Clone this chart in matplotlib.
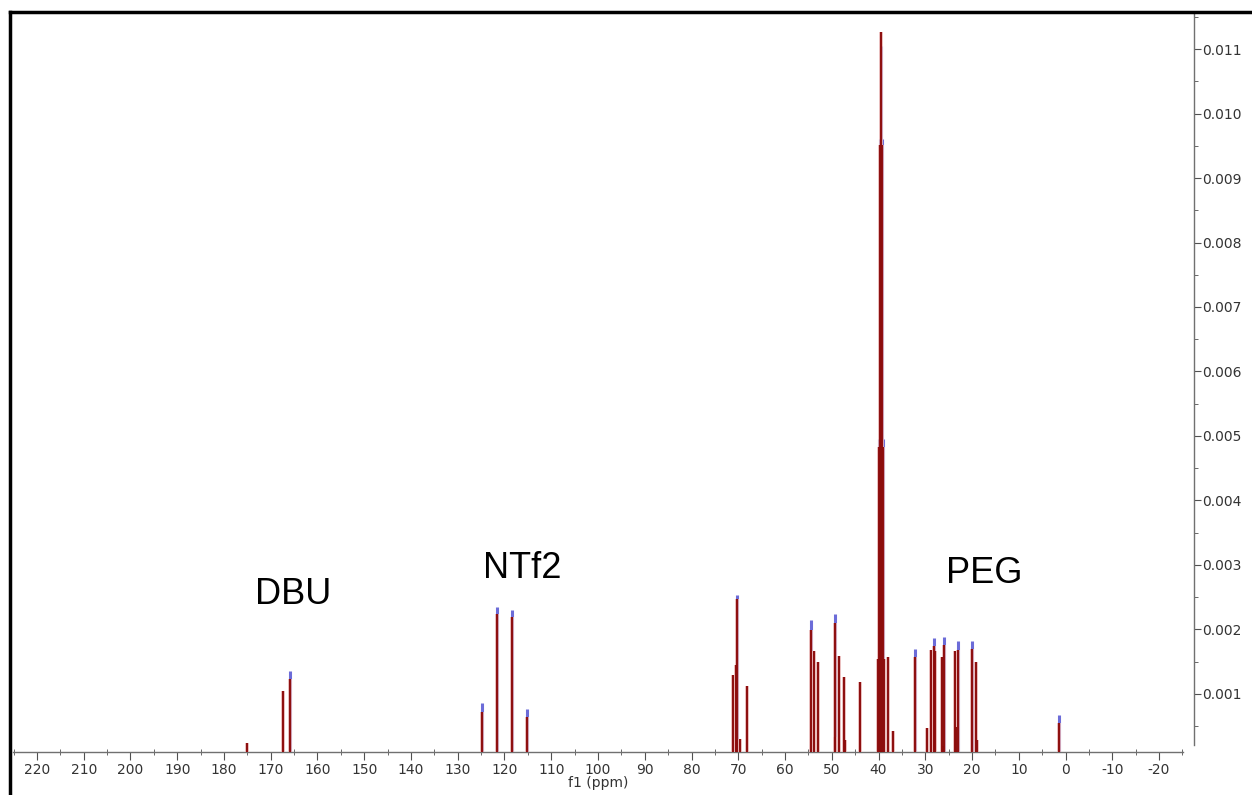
import matplotlib.pyplot as plt
import numpy as np

# peak positions (ppm) and heights
ppm = [175.1, 167.3, 165.9,
       124.8, 121.5, 118.4, 115.2,
       71.1, 70.55, 70.2, 69.6, 68.2,
       54.5, 53.9, 53.0, 49.3, 49.2, 48.4, 47.4, 47.2, 44.0,
       40.15, 39.94, 39.73, 39.52, 39.31, 39.10, 38.89, 38.0, 36.9,
       32.2, 29.7, 28.8, 28.2, 28.0, 26.4, 26.1, 26.0, 23.6, 23.5, 23.1,
       19.9, 19.2, 18.9, 1.4]
red_h = [0.00024, 0.00105, 0.00123,
         0.00072, 0.00224, 0.00219, 0.00064,
         0.00129, 0.00145, 0.00247, 0.00030, 0.00112,
         0.00199, 0.00166, 0.00149, 0.00034, 0.00210, 0.00159, 0.00126, 0.00028, 0.00118,
         0.00154, 0.00483, 0.00951, 0.01126, 0.00951, 0.00483, 0.00154, 0.00158, 0.00043,
         0.00158, 0.00047, 0.00168, 0.00174, 0.00166, 0.00158, 0.00020, 0.00176, 0.00167, 0.00049, 0.00168,
         0.00169, 0.00149, 0.00029, 0.00055]
blue_h = [0, 0, 0.00136,
          0.00086, 0.00235, 0.00230, 0.00077,
          0, 0, 0.00253, 0, 0,
          0.00214, 0, 0, 0, 0.00224, 0, 0, 0, 0,
          0, 0.00495, 0.00960, 0.01105, 0.00960, 0.00495, 0, 0, 0,
          0.00169, 0, 0, 0.00186, 0, 0, 0, 0.00189, 0, 0, 0.00182,
          0.00182, 0, 0, 0.00067]

labels = ['DBU', 'NTf2', 'PEG']
label_x = [165.2, 116.3, 17.4]
label_y = [0.00254, 0.00295, 0.00286]

fig = plt.figure(figsize=(12.52, 7.95), dpi=100)
ax = fig.add_axes([13 / 1252, 1 - 752 / 795, 1170 / 1252, 740 / 795])

p = np.array(ppm)
b = np.array(blue_h)
m = b > 0
ax.vlines(p[m], 0, b[m], color='#6c6cd8', lw=2.2, zorder=2)
ax.vlines(p, 0, red_h, color='#e6b0b0', lw=2.6, zorder=3)
ax.vlines(p, 0, red_h, color='#8c0c0c', lw=1.4, zorder=4)

for t, x, y in zip(labels, label_x, label_y):
    ax.text(x, y, t, fontsize=26, family='Liberation Sans', ha='center', va='center')

ax.set_xlim(225.13, -25.13)
ax.set_ylim(0.0001, 0.011574)
ax.set_xticks(np.arange(220, -21, -10))
ax.set_xticks(np.arange(225, -26, -5), minor=True)
ax.set_xticklabels([str(v) for v in range(220, -21, -10)])
ax.set_yticks(np.arange(0.001, 0.0115, 0.001))
ax.set_yticks(np.arange(0.0005, 0.0116, 0.0005), minor=True)
ax.set_yticklabels(['%.3f' % v for v in np.arange(0.001, 0.0115, 0.001)])
ax.yaxis.tick_right()

for s in ['top', 'left']:
    ax.spines[s].set_visible(False)
for s in ['bottom', 'right']:
    ax.spines[s].set_color('#707070')
    ax.spines[s].set_linewidth(1)
ax.spines['right'].set_position(('outward', 8))
ax.spines['right'].set_bounds(0.0001 + 7 / 64500, 0.011574)

ax.tick_params(axis='x', which='major', direction='out', length=6, color='#505050',
               labelsize=10, labelcolor='#333333', pad=2)
ax.tick_params(axis='x', which='minor', direction='inout', length=5, color='#505050')
ax.tick_params(axis='y', which='major', direction='out', length=5, color='#505050',
               labelsize=10, labelcolor='#333333', pad=1)
ax.tick_params(axis='y', which='minor', direction='out', length=3, color='#505050')
ax.set_xlabel('f1 (ppm)', fontsize=10, color='#333333', labelpad=-1)

# window border of the screenshot
fig.add_artist(plt.Line2D([10 / 1252, 1], [1 - 12 / 795] * 2, color='black', lw=2.5))
fig.add_artist(plt.Line2D([10 / 1252] * 2, [0, 1 - 12 / 795], color='black', lw=2.5))

plt.savefig('out.png', dpi=100)
